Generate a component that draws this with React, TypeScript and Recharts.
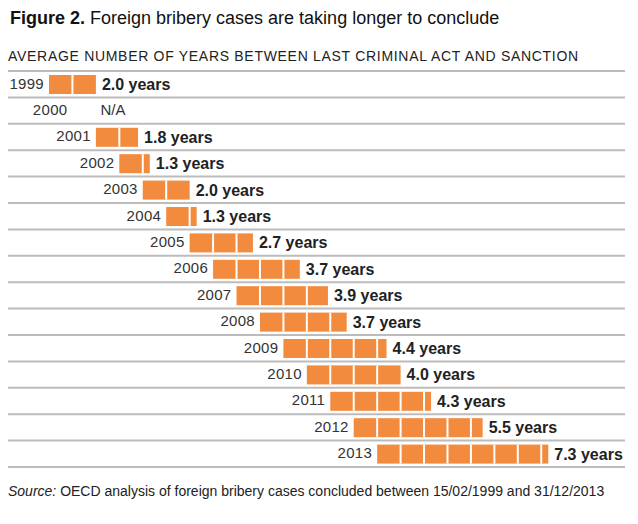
import { BarChart, Bar, XAxis, YAxis, CartesianGrid } from "recharts";

const years = ["1999", "2000", "2001", "2002", "2003", "2004", "2005", "2006", "2007", "2008", "2009", "2010", "2011", "2012", "2013"];
const durations: (number | null)[] = [2.0, null, 1.8, 1.3, 2.0, 1.3, 2.7, 3.7, 3.9, 3.7, 4.4, 4.0, 4.3, 5.5, 7.3];
const missingLabel = "N/A";

// staircase: each year's bar starts one year further right
const data = years.map((year, i) => ({ year, offset: i, years: durations[i] }));

const FONT = '"Liberation Sans", Arial, Helvetica, sans-serif';
const ORANGE = "#F28B3E";

function YearLabel(props: any) {
  const { x, y, width, height, payload } = props;
  const cy = y + height / 2;
  const end = x + width;
  return (
    <g>
      <text x={end - 5} y={cy + 4} textAnchor="end" fontSize={15} letterSpacing={0.3} fill="#333" fontFamily={FONT}>
        {payload.year}
      </text>
      {payload.years == null && (
        <text x={end + 28} y={cy + 4} fontSize={15} fill="#333" fontFamily={FONT}>
          {missingLabel}
        </text>
      )}
    </g>
  );
}

function SegmentBar(props: any) {
  const { x, y, width, height, payload } = props;
  const v = payload.years;
  if (v == null || !width) return <g />;
  const unit = width / v;
  const seps = [];
  for (let k = 1; k < v - 0.001; k++) {
    seps.push(<rect key={k} x={x + k * unit - 1} y={y} width={2} height={height} fill="#fff" />);
  }
  return (
    <g>
      <rect x={x} y={y} width={width} height={height} fill={ORANGE} />
      {seps}
      <text x={x + width + 6} y={y + height / 2 + 5.5} fontSize={16} fontWeight="bold" fill="#222" fontFamily={FONT}>
        {v.toFixed(1)} years
      </text>
    </g>
  );
}

export default function App() {
  return (
    <div style={{ position: "absolute", left: 0, top: 0, width: 638, height: 524, background: "#fff", fontFamily: FONT }}>
      <div style={{ position: "absolute", left: 10, top: 8, fontSize: 18, color: "#111", whiteSpace: "nowrap" }}>
        <b>Figure 2.</b> Foreign bribery cases are taking longer to conclude
      </div>
      <div style={{ position: "absolute", left: 8, top: 48, fontSize: 14, letterSpacing: 0.7, color: "#222", whiteSpace: "nowrap" }}>
        AVERAGE NUMBER OF YEARS BETWEEN LAST CRIMINAL ACT AND SANCTION
      </div>
      <BarChart
        width={638}
        height={524}
        data={data}
        layout="vertical"
        margin={{ top: 71, right: 3, bottom: 57, left: 49 }}
        barSize={19}
      >
        <CartesianGrid
          vertical={false}
          x={8}
          width={617}
          stroke="#bcbcbc"
          strokeWidth={2}
          horizontalCoordinatesGenerator={({ offset }: any) =>
            years.map((_, i) => offset.top + (i * offset.height) / years.length).concat(offset.top + offset.height)
          }
        />
        <XAxis type="number" domain={[0, 25]} hide />
        <YAxis type="category" dataKey="year" hide />
        <Bar dataKey="offset" stackId="a" fill="none" shape={YearLabel} isAnimationActive={false} />
        <Bar dataKey="years" stackId="a" fill={ORANGE} shape={SegmentBar} isAnimationActive={false} />
      </BarChart>
      <div style={{ position: "absolute", left: 8, top: 483, fontSize: 14, color: "#222", whiteSpace: "nowrap" }}>
        <i>Source:</i> OECD analysis of foreign bribery cases concluded between 15/02/1999 and 31/12/2013
      </div>
    </div>
  );
}
